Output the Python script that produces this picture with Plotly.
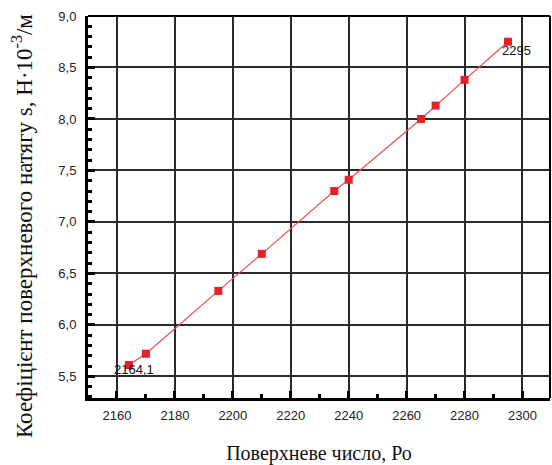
import plotly.graph_objects as go

# Surface number Po and surface tension coefficient s (N·10^-3/m)
po_values = [2164.1, 2170, 2195, 2210, 2235, 2240, 2265, 2270, 2280, 2295]
s_values = [5.61, 5.72, 6.33, 6.69, 7.30, 7.41, 8.00, 8.13, 8.38, 8.75]

x_ticks = [2160, 2180, 2200, 2220, 2240, 2260, 2280, 2300]
y_ticks = [5.5, 6.0, 6.5, 7.0, 7.5, 8.0, 8.5, 9.0]

label_first = "2164,1"
label_last = "2295"
y_title = "Коефіцієнт поверхневого натягу s, Н·10<sup>-3</sup>/м"
x_title = "Поверхневе число, Ро"

fig = go.Figure()
fig.add_trace(go.Scatter(
    x=po_values, y=s_values, mode="lines+markers",
    line=dict(color="#f04a4a", width=1.2),
    marker=dict(symbol="square", size=8, color="#e8202a"),
    showlegend=False, hoverinfo="x+y",
))

axis_font = dict(family="Liberation Sans, Arial, sans-serif", size=13, color="#222")
title_family = "Liberation Serif, Times New Roman, serif"
label_font = dict(family="Liberation Sans, Arial, sans-serif", size=13, color="#111")

fig.update_layout(
    width=552, height=465,
    margin=dict(l=88, r=2, t=16, b=65),
    paper_bgcolor="white", plot_bgcolor="white",
    separators=", ",
    xaxis=dict(
        range=[2150, 2309.5],
        tickvals=x_ticks, tickfont=axis_font,
        showgrid=True, gridcolor="#2a2a2a", gridwidth=1.5,
        showline=True, linecolor="black", linewidth=3,
        ticks="inside", ticklen=7, tickwidth=3, tickcolor="black",
        ticklabelstandoff=3,
        minor=dict(dtick=10, tick0=2150, ticks="inside", ticklen=4, tickwidth=3,
                   tickcolor="black", showgrid=False),
        zeroline=False,
        title=dict(text=x_title, font=dict(size=20, family=title_family, color="#111"),
                   standoff=26),
    ),
    yaxis=dict(
        range=[5.29, 9.0],
        tickvals=y_ticks, tickformat=".1f", tickfont=axis_font,
        showgrid=True, gridcolor="#2a2a2a", gridwidth=1.5,
        showline=True, linecolor="black", linewidth=3,
        ticks="inside", ticklen=7, tickwidth=3, tickcolor="black",
        ticklabelstandoff=6,
        minor=dict(dtick=0.1, tick0=5.0, ticks="inside", ticklen=4, tickwidth=3,
                   tickcolor="black", showgrid=False),
        zeroline=False,
    ),
    shapes=[
        dict(type="line", xref="paper", yref="paper", x0=1, x1=1, y0=0, y1=1,
             line=dict(color="black", width=2)),
        dict(type="line", xref="paper", yref="paper", x0=0, x1=1, y0=1, y1=1,
             line=dict(color="black", width=2)),
    ],
    annotations=[
        # vertical axis title, placed left of the tick labels
        dict(xref="paper", yref="paper", x=0, y=0.45, xshift=-66,
             text=y_title, textangle=-90, showarrow=False,
             xanchor="center", yanchor="middle",
             font=dict(size=23, family=title_family, color="#111")),
        dict(x=po_values[0], y=s_values[0], text=label_first, showarrow=False,
             xanchor="center", yanchor="middle", xshift=5, yshift=-4, font=label_font),
        dict(x=po_values[-1], y=s_values[-1], text=label_last, showarrow=False,
             xanchor="center", yanchor="middle", xshift=8, yshift=-9, font=label_font),
    ],
)

fig.write_html("out.html")
